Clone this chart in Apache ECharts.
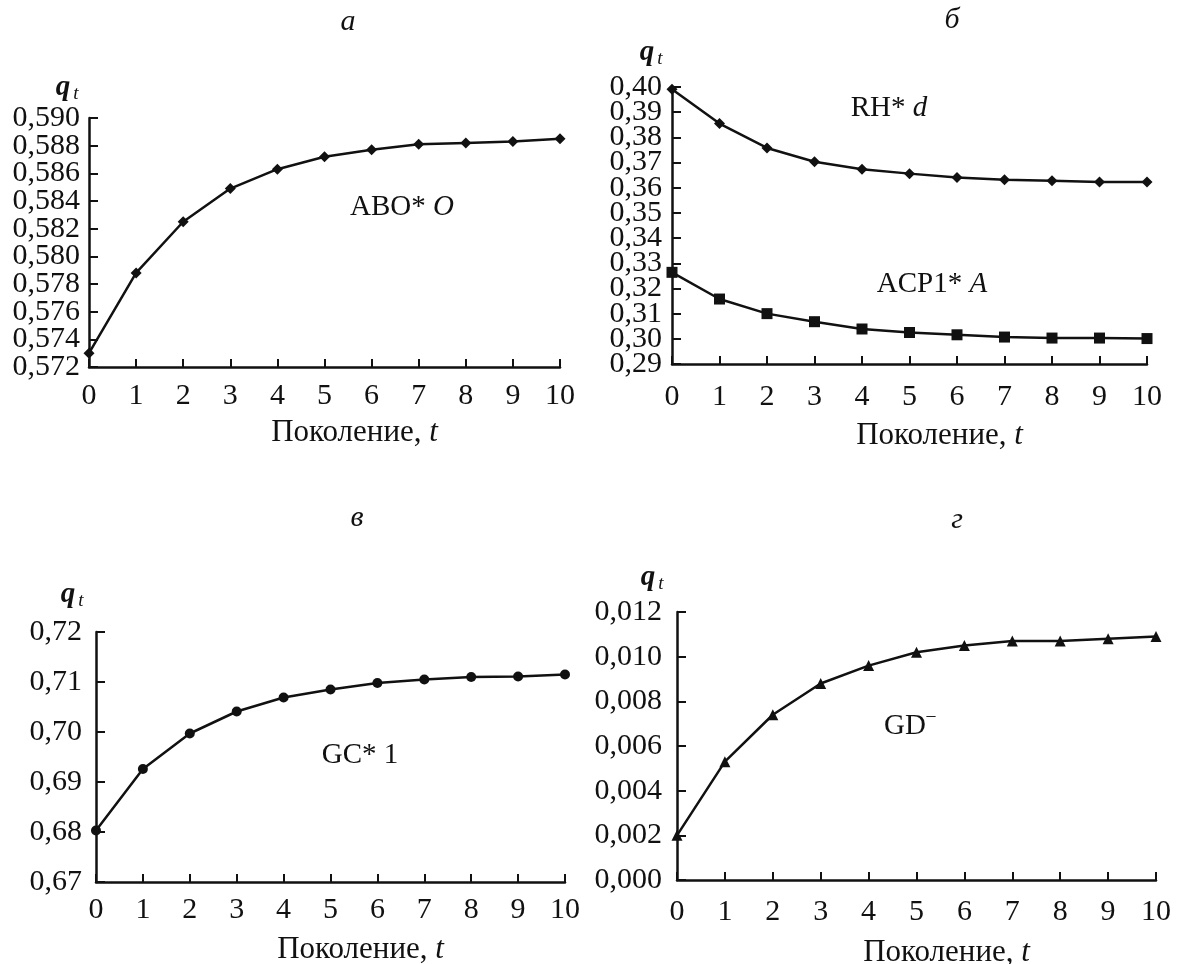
<!DOCTYPE html>
<html>
<head>
<meta charset="utf-8">
<script src="https://cdn.jsdelivr.net/npm/echarts@6/dist/echarts.min.js"></script>
<style>
  html, body { margin: 0; padding: 0; background: #fff; }
  #chart { width: 1179px; height: 964px; }
</style>
</head>
<body>
<div id="chart"></div>
<script>
// data
var generations = [0, 1, 2, 3, 4, 5, 6, 7, 8, 9, 10];
var aboO   = [0.5730, 0.5788, 0.5825, 0.5849, 0.5863, 0.5872, 0.5877, 0.5881, 0.5882, 0.5883, 0.5885];
var rhD    = [0.3991, 0.3855, 0.3758, 0.3703, 0.3673, 0.3656, 0.3641, 0.3632, 0.3628, 0.3623, 0.3623];
var acp1A  = [0.3264, 0.3158, 0.3100, 0.3068, 0.3039, 0.3025, 0.3016, 0.3007, 0.3003, 0.3003, 0.3001];
var gc1    = [0.6803, 0.6926, 0.6997, 0.7041, 0.7069, 0.7085, 0.7098, 0.7105, 0.7110, 0.7111, 0.7115];
var gdNeg  = [0.0020, 0.0053, 0.0074, 0.0088, 0.0096, 0.0102, 0.0105, 0.0107, 0.0107, 0.0108, 0.0109];

// y tick labels of the four panels
var yTicksA = [0.572, 0.574, 0.576, 0.578, 0.580, 0.582, 0.584, 0.586, 0.588, 0.590];
var yTicksB = [0.29, 0.30, 0.31, 0.32, 0.33, 0.34, 0.35, 0.36, 0.37, 0.38, 0.39, 0.40];
var yTicksC = [0.67, 0.68, 0.69, 0.70, 0.71, 0.72];
var yTicksD = [0.000, 0.002, 0.004, 0.006, 0.008, 0.010, 0.012];

var panelLetters = ['а', 'б', 'в', 'г'];
var xName = 'Поколение, ';

var FONT = 'Liberation Serif';
var INK = '#111';

var chart = echarts.init(document.getElementById('chart'));

function pairs(ys) {
  return generations.map(function (g, i) { return [g, ys[i]]; });
}

function xAxisFor(gi, labelMargin, nameGap) {
  return {
    type: 'value', gridIndex: gi, min: 0, max: 10, interval: 1,
    name: '{n|' + xName + '}{i|t}',
    nameLocation: 'middle', nameGap: nameGap,
    nameTextStyle: {
      padding: [0, 0, 0, 60],
      rich: {
        n: { fontFamily: FONT, fontSize: 31, color: INK },
        i: { fontFamily: FONT, fontSize: 31, fontStyle: 'italic', color: INK }
      }
    },
    axisLine: { show: true, onZero: false, lineStyle: { color: INK, width: 2.5 } },
    axisTick: { show: true, inside: true, length: 8, lineStyle: { color: INK, width: 2 } },
    axisLabel: {
      margin: labelMargin, fontFamily: FONT, fontSize: 30, color: INK,
      showMinLabel: true, showMaxLabel: true
    },
    splitLine: { show: false }
  };
}

// labels are split over two overlaid axes (even / odd ticks) so that the
// tightly packed labels are not thinned out by the overlap check
function yAxesFor(gi, ticks, digits, margin) {
  var fmt = function (v) { return v.toFixed(digits).replace('.', ','); };
  var even = ticks.filter(function (v, i) { return i % 2 === 0; });
  var odd = ticks.filter(function (v, i) { return i % 2 === 1; });
  var min = ticks[0], max = ticks[ticks.length - 1];
  var labelBase = { margin: margin, fontFamily: FONT, fontSize: 30, color: INK, formatter: fmt };
  return [{
    type: 'value', gridIndex: gi, min: min, max: max, position: 'left',
    axisLine: { show: true, onZero: false, lineStyle: { color: INK, width: 2.5 } },
    axisTick: { show: true, inside: true, length: 9, customValues: ticks, lineStyle: { color: INK, width: 2 } },
    axisLabel: Object.assign({ customValues: even }, labelBase),
    splitLine: { show: false }
  }, {
    type: 'value', gridIndex: gi, min: min, max: max, position: 'left', offset: 0,
    axisLine: { show: false },
    axisTick: { show: false },
    axisLabel: Object.assign({ customValues: odd }, labelBase),
    splitLine: { show: false }
  }];
}

function lineSeries(gi, ys, symbol, size) {
  return {
    type: 'line', xAxisIndex: gi, yAxisIndex: gi * 2,
    data: pairs(ys),
    symbol: symbol, symbolSize: size,
    itemStyle: { color: INK },
    lineStyle: { color: INK, width: 2.5 },
    animation: false
  };
}

function label(x, y, text, size, italic) {
  return {
    type: 'text', x: x, y: y, silent: true,
    style: {
      text: text, fill: INK, align: 'center', verticalAlign: 'middle',
      font: (italic ? 'italic ' : '') + size + 'px "' + FONT + '"'
    }
  };
}

function richLabel(x, y, plain, ital) {
  return {
    type: 'text', x: x, y: y, silent: true,
    style: {
      text: '{n|' + plain + '}{i|' + ital + '}',
      align: 'center', verticalAlign: 'middle',
      rich: {
        n: { fontFamily: FONT, fontSize: 29, fill: INK, color: INK },
        i: { fontFamily: FONT, fontSize: 29, fontStyle: 'italic', fill: INK, color: INK }
      }
    }
  };
}

function qt(x, y) {
  return [
    { type: 'text', x: x - 4, y: y, silent: true,
      style: { text: 'q', fill: INK, align: 'center', verticalAlign: 'middle', font: 'italic bold 29px "' + FONT + '"' } },
    { type: 'text', x: x + 9, y: y + 6, silent: true,
      style: { text: 't', fill: INK, align: 'center', verticalAlign: 'middle', font: 'italic 19px "' + FONT + '"' } }
  ];
}

var graphics = [
  label(348, 22, panelLetters[0], 30, true),
  label(952, 20, panelLetters[1], 30, true),
  label(357, 518, panelLetters[2], 30, true),
  label(957, 520, panelLetters[3], 30, true),
  richLabel(402, 207, 'ABO* ', 'O'),
  richLabel(889, 108, 'RH* ', 'd'),
  richLabel(932, 284, 'ACP1* ', 'A'),
  label(360, 755, 'GC* 1', 29, false),
  label(905, 726, 'GD', 29, false),
  label(931, 716, '–', 18, false)
].concat(qt(67, 88), qt(651, 53), qt(72, 595), qt(652, 578));

chart.setOption({
  backgroundColor: '#fff',
  animation: false,
  grid: [
    { left: 89, top: 118, width: 471, height: 249, outerBoundsMode: 'none' },
    { left: 672, top: 87, width: 475, height: 277, outerBoundsMode: 'none' },
    { left: 96, top: 632, width: 469, height: 250, outerBoundsMode: 'none' },
    { left: 677, top: 612, width: 479, height: 268, outerBoundsMode: 'none' }
  ],
  xAxis: [xAxisFor(0, 14, 50), xAxisFor(1, 18, 56), xAxisFor(2, 13, 52), xAxisFor(3, 17, 57)],
  yAxis: [].concat(
    yAxesFor(0, yTicksA, 3, 9),
    yAxesFor(1, yTicksB, 2, 10),
    yAxesFor(2, yTicksC, 2, 14),
    yAxesFor(3, yTicksD, 3, 15)
  ),
  series: [
    lineSeries(0, aboO, 'diamond', 11),
    lineSeries(1, rhD, 'diamond', 11),
    lineSeries(1, acp1A, 'rect', 11),
    lineSeries(2, gc1, 'circle', 10),
    lineSeries(3, gdNeg, 'triangle', 11)
  ],
  graphic: graphics
});
</script>
</body>
</html>
